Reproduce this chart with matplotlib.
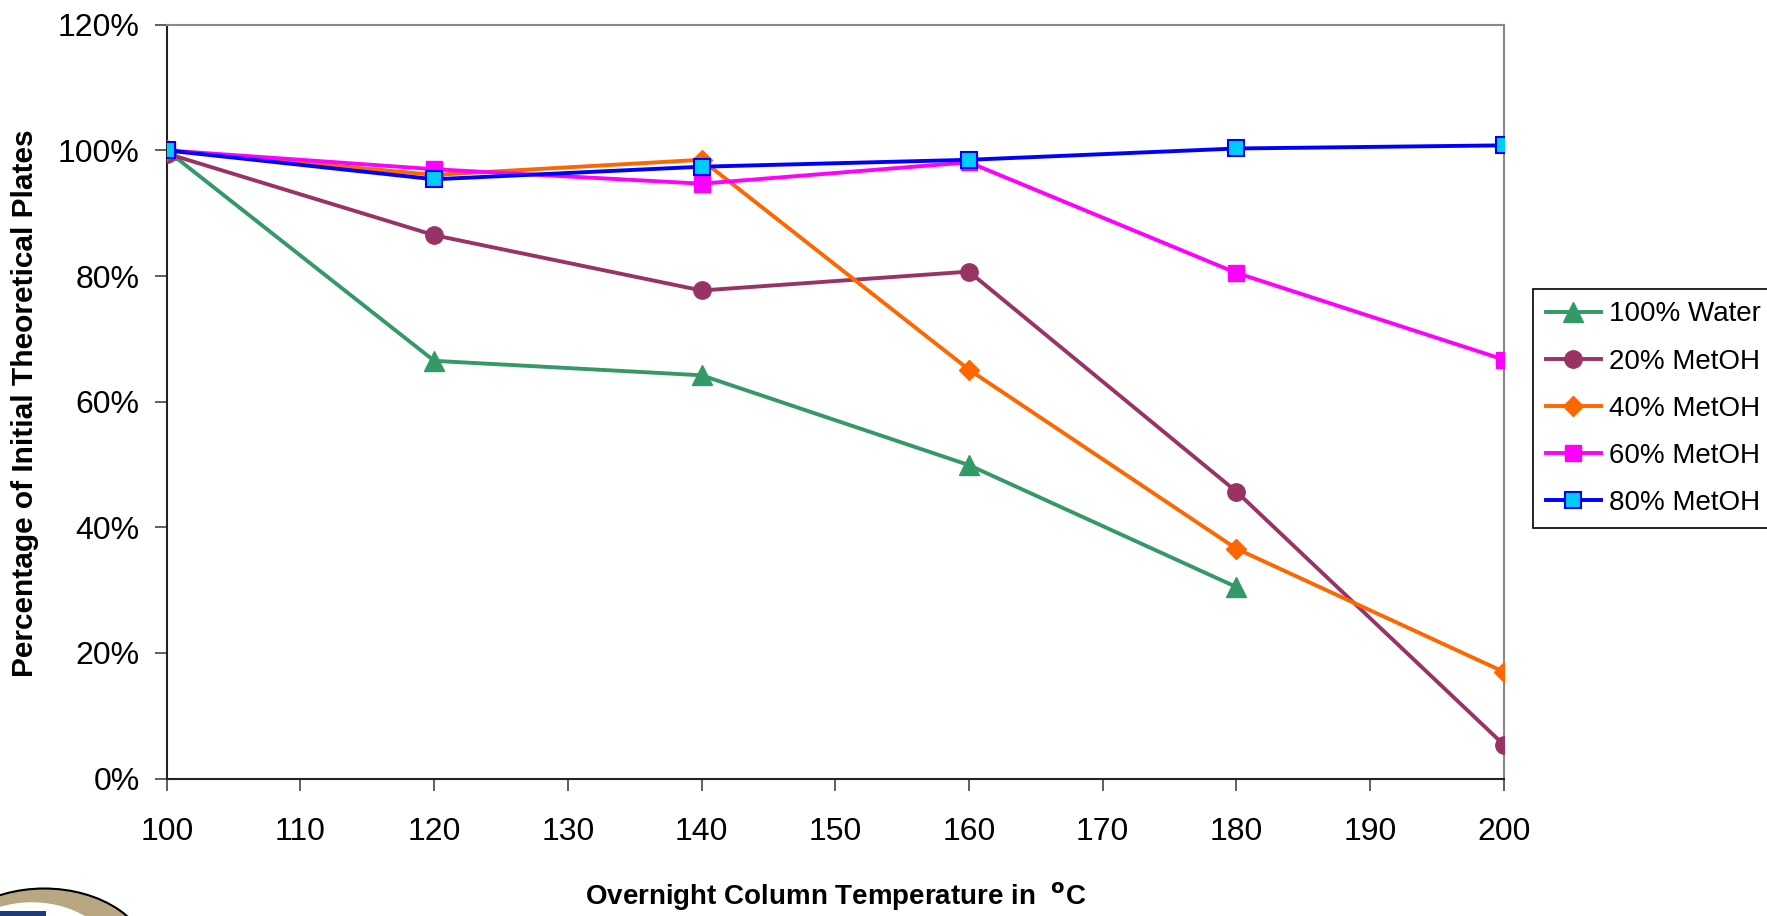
import matplotlib
matplotlib.use('Agg')
import matplotlib.pyplot as plt
from matplotlib.ticker import FuncFormatter, MultipleLocator
from matplotlib.patches import Ellipse, Rectangle

plt.rcParams['font.family'] = ['Liberation Sans', 'DejaVu Sans']
plt.rcParams['mathtext.default'] = 'regular'

# overnight column temperature (deg C)
temps = [100, 120, 140, 160, 180, 200]
water_100 = [1.00, 0.665, 0.642, 0.499, 0.305]
metoh_20 = [0.995, 0.865, 0.777, 0.807, 0.457, 0.054]
metoh_40 = [1.00, 0.961, 0.985, 0.651, 0.366, 0.170]
metoh_60 = [1.00, 0.970, 0.947, 0.981, 0.805, 0.667]
metoh_80 = [1.00, 0.954, 0.974, 0.985, 1.003, 1.008]

labels = ['100% Water', '20% MetOH', '40% MetOH', '60% MetOH', '80% MetOH']

fig = plt.figure(figsize=(17.67, 9.16), dpi=100)
ax = fig.add_axes([0.0944, 0.150, 0.7566, 0.823])

lw = 2.8
ax.plot(temps[:len(water_100)], water_100, color='#339966', lw=lw, marker='^', ms=15,
        mfc='#339966', mec='#339966', label=labels[0], zorder=3)
ax.plot(temps, metoh_20, color='#993366', lw=lw, marker='o', ms=12.5,
        mfc='#993366', mec='#993366', label=labels[1], zorder=3)
ax.plot(temps, metoh_40, color='#FF6600', lw=lw, marker='D', ms=10.5,
        mfc='#FF6600', mec='#FF6600', label=labels[2], zorder=4)
ax.plot(temps, metoh_60, color='#FF00FF', lw=lw, marker='s', ms=11.5,
        mfc='#FF00FF', mec='#FF00FF', label=labels[3], zorder=5)
ax.plot(temps, metoh_80, color='#0000FF', lw=lw, marker='s', ms=11.5,
        mfc='#00CCFF', mec='#0000FF', mew=1.5, label=labels[4], zorder=6)

ax.set_xlim(100, 200)
ax.set_ylim(0, 1.2)
ax.xaxis.set_major_locator(MultipleLocator(10))
ax.yaxis.set_major_locator(MultipleLocator(0.2))
ax.yaxis.set_major_formatter(FuncFormatter(lambda v, p: f'{v*100:.0f}%'))
ax.tick_params(axis='both', labelsize=23, length=8.5, width=1.2, color='#444444',
               direction='out')
ax.tick_params(axis='x', pad=19)
ax.tick_params(axis='y', pad=11)

for s in ['left', 'bottom']:
    ax.spines[s].set_color('#222222')
    ax.spines[s].set_linewidth(1.5)
for s in ['top', 'right']:
    ax.spines[s].set_color('#888888')
    ax.spines[s].set_linewidth(1.5)

fig.text(0.0142, 0.560, 'Percentage of Initial Theoretical Plates', rotation=90,
         ha='center', va='center', fontsize=21.5, fontweight='bold')
fig.text(0.473, 0.021, r'Overnight Column Temperature in  $\mathbf{^{o}}$C',
         ha='center', va='center', fontsize=20, fontweight='bold')

leg = fig.legend(loc='upper left', bbox_to_anchor=(0.8676, 0.6845), fontsize=20,
                 frameon=True, fancybox=False, edgecolor='black', framealpha=1,
                 handlelength=2.0, labelspacing=0.76, handletextpad=0.3,
                 borderpad=0.45, borderaxespad=0)
leg.get_frame().set_linewidth(1.2)

# corner of a logo cut off at the bottom left
fig.patches.append(Ellipse((0.025, -0.05), 0.12, 0.16, transform=fig.transFigure,
                           facecolor='#b9a784', edgecolor='black', lw=1.5))
fig.patches.append(Ellipse((0.018, -0.06), 0.10, 0.15, transform=fig.transFigure,
                           facecolor='white', edgecolor='none'))
fig.patches.append(Rectangle((0.0, 0.0), 0.026, 0.005, transform=fig.transFigure,
                             facecolor='#1f3c7a', edgecolor='none'))

fig.savefig('out.png', dpi=100)
